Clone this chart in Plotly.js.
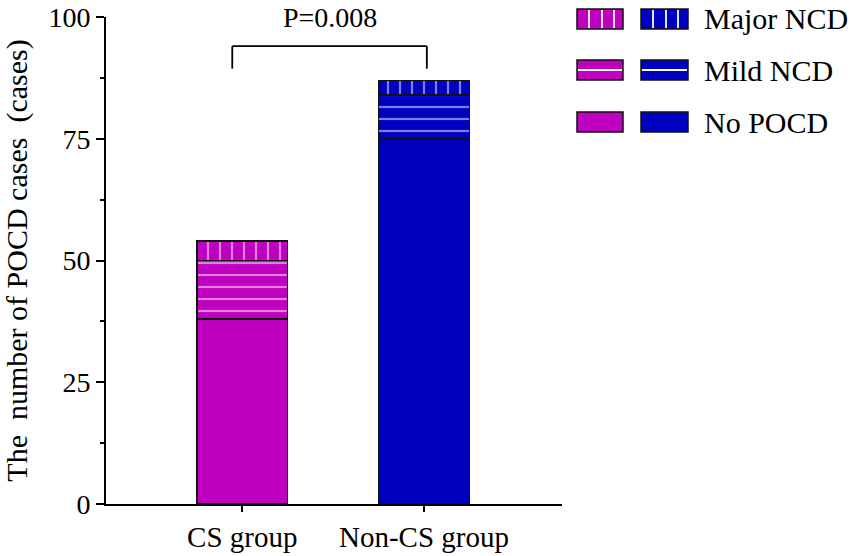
<!DOCTYPE html>
<html>
<head>
<meta charset="utf-8">
<script src="https://cdn.plot.ly/plotly-3.0.1.min.js"></script>
<style>
  html, body { margin: 0; padding: 0; background: #fff; }
  #chart { width: 859px; height: 556px; }
</style>
</head>
<body>
<div id="chart"></div>
<script>
// data
const groups = ['CS group', 'Non-CS group'];
const noPocd = [38, 75];
const mildNcd = [12, 9];
const majorNcd = [4, 3];
const groupColors = ['#bf00bf', '#0000c0'];
const legendLabels = ['Major NCD', 'Mild NCD', 'No POCD'];
const yTicks = [0, 25, 50, 75, 100];
const pValueText = 'P=0.008';

// a single family name: a comma list is not picked up here
const FONT = 'Liberation Serif';

// plot area in pixels (used to place the hand-made legend)
const W = 859, H = 556;
const M = {l: 106, r: 297, t: 17, b: 52};
const plotW = W - M.l - M.r;
const plotH = H - M.t - M.b;
function px(x) { return (x - M.l) / plotW; }
function py(y) { return (H - M.b - y) / plotH; }

function segment(name, values, shape)
{
  let marker = {
    color: groupColors,
    line: {color: '#111', width: 1.6}
  };
  if(shape)
  {
    // overlay: background is the bar colour, stripes drawn in white
    marker.pattern = {shape: shape, fillmode: 'overlay', size: 12, solidity: 0.18};
  }
  return {
    type: 'bar',
    name: name,
    x: groups,
    y: values,
    width: 0.5,
    marker: marker,
    showlegend: false,
    hoverinfo: 'x+y+name'
  };
}

const data = [
  segment('No POCD', noPocd, ''),
  segment('Mild NCD', mildNcd, '-'),
  segment('Major NCD', majorNcd, '|')
];

// legend: two swatches (one per group) then the label
const shapes = [];
const annotations = [];
const rowY = [19, 70, 122];
const swatchX = [[577, 623], [641, 688]];
const stripeStyle = ['|', '-', ''];
legendLabels.forEach(function(label, i)
{
  const yc = rowY[i];
  swatchX.forEach(function(sx, g)
  {
    shapes.push({
      type: 'rect', xref: 'paper', yref: 'paper',
      x0: px(sx[0]), x1: px(sx[1]), y0: py(yc + 10), y1: py(yc - 10),
      fillcolor: groupColors[g], line: {color: '#111', width: 1.5}
    });
    if(stripeStyle[i] === '|')
    {
      [12, 25, 37].forEach(function(dx)
      {
        shapes.push({
          type: 'line', xref: 'paper', yref: 'paper',
          x0: px(sx[0] + dx), x1: px(sx[0] + dx), y0: py(yc + 9), y1: py(yc - 9),
          line: {color: '#fff', width: 1.8}
        });
      });
    }
    else if(stripeStyle[i] === '-')
    {
      shapes.push({
        type: 'line', xref: 'paper', yref: 'paper',
        x0: px(sx[0] + 1), x1: px(sx[1] - 1), y0: py(yc), y1: py(yc),
        line: {color: '#fff', width: 1.8}
      });
    }
  });
  annotations.push({
    xref: 'paper', yref: 'paper', x: px(702), y: py(yc),
    xanchor: 'left', yanchor: 'middle', showarrow: false,
    text: label, font: {family: FONT, size: 30, color: '#000'}
  });
});

// significance bracket between the two groups
const bx0 = -0.055, bx1 = 1.016, byTop = 94, byLow = 89.4;
shapes.push(
  {type: 'line', xref: 'x', yref: 'y', x0: bx0, x1: bx1, y0: byTop, y1: byTop, line: {color: '#000', width: 1.8}},
  {type: 'line', xref: 'x', yref: 'y', x0: bx0, x1: bx0, y0: byTop, y1: byLow, line: {color: '#000', width: 1.8}},
  {type: 'line', xref: 'x', yref: 'y', x0: bx1, x1: bx1, y0: byTop, y1: byLow, line: {color: '#000', width: 1.8}}
);
annotations.push({
  xref: 'x', yref: 'y', x: 0.485, y: 100,
  xanchor: 'center', yanchor: 'middle', showarrow: false,
  text: pValueText, font: {family: FONT, size: 28, color: '#000'}
});

const layout = {
  width: W,
  height: H,
  margin: M,
  paper_bgcolor: '#fff',
  plot_bgcolor: '#fff',
  barmode: 'stack',
  font: {family: FONT, size: 28, color: '#000'},
  xaxis: {
    type: 'category',
    range: [-0.75, 1.76],
    showline: true, linecolor: '#000', linewidth: 2,
    ticks: 'outside', ticklen: 6, tickwidth: 2, tickcolor: '#000',
    showgrid: false, zeroline: false,
    tickfont: {family: FONT, size: 29, color: '#000'}
  },
  yaxis: {
    range: [0, 100],
    tickvals: yTicks,
    showline: true, linecolor: '#000', linewidth: 2,
    ticks: 'outside', ticklen: 8, tickwidth: 2, tickcolor: '#000',
    minor: {ticks: 'outside', ticklen: 4, tickwidth: 2, tickcolor: '#000', dtick: 12.5, tick0: 0, showgrid: false},
    showgrid: false, zeroline: false,
    tickfont: {family: FONT, size: 28, color: '#000'},
    title: {
      text: 'The \u00a0number of POCD cases \u00a0(cases)',
      font: {family: FONT, size: 30, color: '#000'},
      standoff: 12
    }
  },
  shapes: shapes,
  annotations: annotations
};

Plotly.newPlot('chart', data, layout, {staticPlot: true});
</script>
</body>
</html>
